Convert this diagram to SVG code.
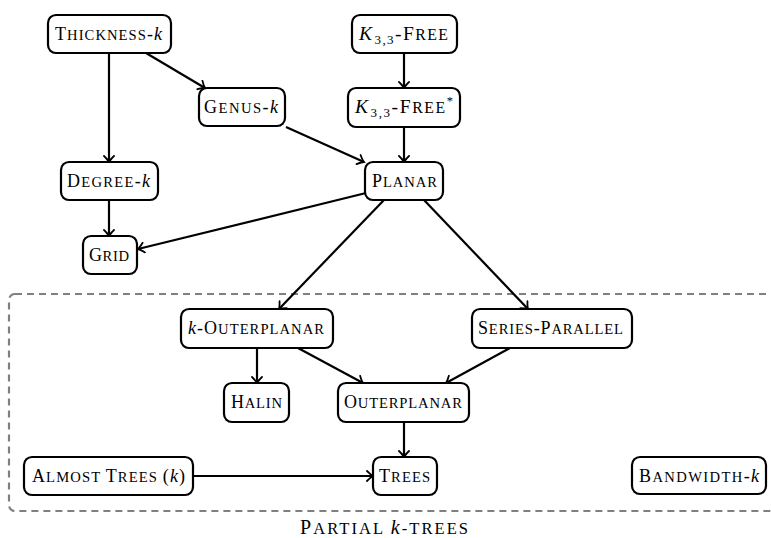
<svg xmlns="http://www.w3.org/2000/svg" width="771" height="538" viewBox="0 0 771 538">
<style>
.box{fill:#fff;stroke:#000;stroke-width:2.2}
.lbl{font-family:"Liberation Serif","Times New Roman",serif;font-size:18px;fill:#000}
.sc{font-size:14.6px}
.it{font-style:italic}
.sub{font-size:12.5px}
.edge{fill:none;stroke:#000;stroke-width:2.2}
.region{fill:none;stroke:#808080;stroke-width:2.2;stroke-dasharray:7 5}
</style>
<defs>
<marker id="arr" viewBox="-8 -6 10 12" markerWidth="10" markerHeight="12" refX="0" refY="0" orient="auto" markerUnits="userSpaceOnUse">
<path d="M-6,-5 Q-2,-1 0,0 Q-2,1 -6,5" fill="none" stroke="#000" stroke-width="1.8" stroke-linecap="round"/>
</marker>
</defs>
<rect class="region" x="9" y="294" width="800" height="217" rx="6"/>
<text class="lbl" x="300" y="534" textLength="168" lengthAdjust="spacing" style="font-size:20px">P<tspan class="sc" style="font-size:16.5px">ARTIAL </tspan><tspan class="it">k</tspan><tspan class="sc" style="font-size:16.5px">-TREES</tspan></text>
<g id="edges">
<line class="edge" x1="109" y1="53" x2="109" y2="162" marker-end="url(#arr)"/>
<line class="edge" x1="146" y1="53" x2="205" y2="88" marker-end="url(#arr)"/>
<line class="edge" x1="286" y1="127" x2="364" y2="162" marker-end="url(#arr)"/>
<line class="edge" x1="404" y1="53" x2="404" y2="88" marker-end="url(#arr)"/>
<line class="edge" x1="404" y1="127" x2="404" y2="162" marker-end="url(#arr)"/>
<line class="edge" x1="109" y1="200" x2="109" y2="236" marker-end="url(#arr)"/>
<line class="edge" x1="366" y1="193" x2="138" y2="249" marker-end="url(#arr)"/>
<line class="edge" x1="384" y1="200" x2="279" y2="309" marker-end="url(#arr)"/>
<line class="edge" x1="424" y1="200" x2="528" y2="309" marker-end="url(#arr)"/>
<line class="edge" x1="257" y1="348" x2="257" y2="383" marker-end="url(#arr)"/>
<line class="edge" x1="298" y1="348" x2="363" y2="383" marker-end="url(#arr)"/>
<line class="edge" x1="510" y1="348" x2="446" y2="383" marker-end="url(#arr)"/>
<line class="edge" x1="404" y1="422" x2="404" y2="457" marker-end="url(#arr)"/>
<line class="edge" x1="193" y1="476" x2="373" y2="476" marker-end="url(#arr)"/>
</g>
<g id="thickness">
<rect class="box" x="48" y="15" width="123" height="38" rx="8"/>
<text class="lbl" x="55" y="40" textLength="107" lengthAdjust="spacing">T<tspan class="sc">HICKNESS</tspan>-<tspan class="it">k</tspan></text>
</g>
<g id="genus">
<rect class="box" x="199" y="88" width="86" height="38" rx="8"/>
<text class="lbl" x="204" y="113" textLength="74" lengthAdjust="spacing">G<tspan class="sc">ENUS</tspan>-<tspan class="it">k</tspan></text>
</g>
<g id="k33free">
<rect class="box" x="352" y="15" width="105" height="38" rx="8"/>
<text class="lbl" x="359" y="40" textLength="89" lengthAdjust="spacing" style="font-size:19.5px"><tspan class="it">K</tspan><tspan class="sub" style="font-size:13px" dx="1" dy="4">3,3</tspan><tspan dy="-4">-F</tspan><tspan class="sc" style="font-size:15.8px">REE</tspan></text>
</g>
<g id="k33freestar">
<rect class="box" x="348" y="88" width="112" height="39" rx="8"/>
<text class="lbl" x="355" y="113" textLength="98" lengthAdjust="spacing" style="font-size:19.5px"><tspan class="it">K</tspan><tspan class="sub" style="font-size:13px" dx="1" dy="4">3,3</tspan><tspan dy="-4">-F</tspan><tspan class="sc" style="font-size:15.8px">REE</tspan><tspan class="sub" dy="-8">*</tspan></text>
</g>
<g id="planar">
<rect class="box" x="365" y="162" width="78" height="38" rx="8"/>
<text class="lbl" x="372" y="187" textLength="65" lengthAdjust="spacing">P<tspan class="sc">LANAR</tspan></text>
</g>
<g id="degree">
<rect class="box" x="61" y="162" width="97" height="38" rx="8"/>
<text class="lbl" x="67" y="187" textLength="83" lengthAdjust="spacing">D<tspan class="sc">EGREE</tspan>-<tspan class="it">k</tspan></text>
</g>
<g id="grid">
<rect class="box" x="83" y="236" width="54" height="38" rx="8"/>
<text class="lbl" x="89" y="261" textLength="40" lengthAdjust="spacing">G<tspan class="sc">RID</tspan></text>
</g>
<g id="kouterplanar">
<rect class="box" x="181" y="309" width="152" height="39" rx="8"/>
<text class="lbl" x="188" y="334" textLength="136" lengthAdjust="spacing"><tspan class="it">k</tspan>-O<tspan class="sc">UTERPLANAR</tspan></text>
</g>
<g id="seriesparallel">
<rect class="box" x="472" y="309" width="160" height="39" rx="8"/>
<text class="lbl" x="478" y="334" textLength="145" lengthAdjust="spacing">S<tspan class="sc">ERIES</tspan>-P<tspan class="sc">ARALLEL</tspan></text>
</g>
<g id="halin">
<rect class="box" x="224" y="383" width="65" height="39" rx="8"/>
<text class="lbl" x="231" y="408" textLength="51" lengthAdjust="spacing">H<tspan class="sc">ALIN</tspan></text>
</g>
<g id="outerplanar">
<rect class="box" x="338" y="383" width="131" height="39" rx="8"/>
<text class="lbl" x="344" y="408" textLength="118" lengthAdjust="spacing">O<tspan class="sc">UTERPLANAR</tspan></text>
</g>
<g id="almosttrees">
<rect class="box" x="24" y="457" width="169" height="38" rx="8"/>
<text class="lbl" x="32" y="482" textLength="153" lengthAdjust="spacing">A<tspan class="sc">LMOST </tspan>T<tspan class="sc">REES </tspan>(<tspan class="it">k</tspan>)</text>
</g>
<g id="trees">
<rect class="box" x="373" y="457" width="64" height="38" rx="8"/>
<text class="lbl" x="379" y="482" textLength="51" lengthAdjust="spacing">T<tspan class="sc">REES</tspan></text>
</g>
<g id="bandwidth">
<rect class="box" x="632" y="457" width="134" height="37" rx="8"/>
<text class="lbl" x="639" y="482" textLength="120" lengthAdjust="spacing">B<tspan class="sc">ANDWIDTH</tspan>-<tspan class="it">k</tspan></text>
</g>
</svg>
